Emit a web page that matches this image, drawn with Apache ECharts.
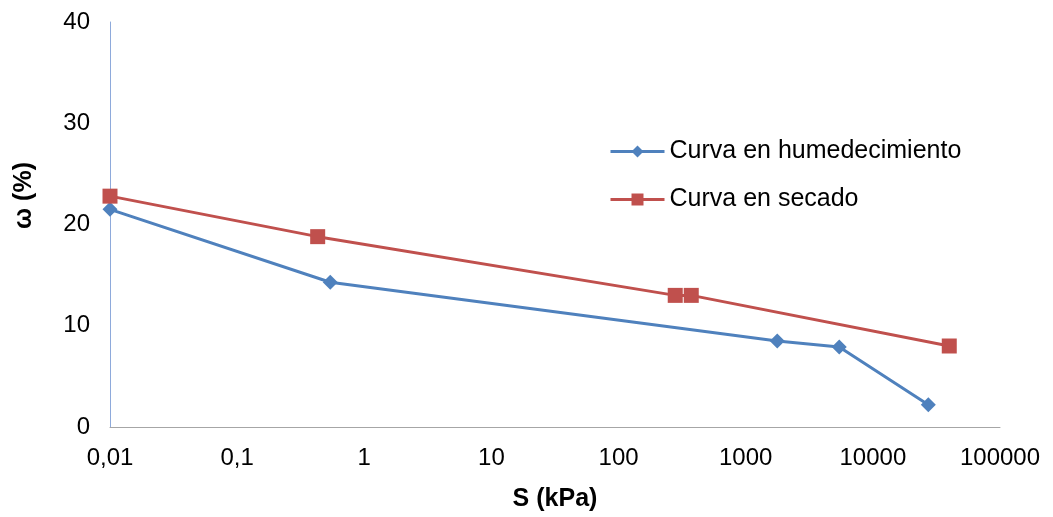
<!DOCTYPE html>
<html>
<head>
<meta charset="utf-8">
<script src="https://cdn.jsdelivr.net/npm/echarts@6/dist/echarts.min.js"></script>
<style>html,body{margin:0;padding:0;background:#fff}#c{width:1053px;height:517px}</style>
</head>
<body>
<div id="c"></div>
<script>
const wetS = [0.01, 0.54, 1770, 5440, 27300];
const wetW = [21.5, 14.3, 8.5, 7.9, 2.2];
const dryS = [0.01, 0.43, 279, 373, 39900];
const dryW = [22.8, 18.8, 13.0, 13.0, 8.0];
const seriesNames = ['Curva en humedecimiento', 'Curva en secado'];
const xName = 'S (kPa)';
const yName = 'ω (%)';

const font = '"Liberation Sans", Arial, sans-serif';
const chart = echarts.init(document.getElementById('c'));
chart.setOption({
  animation: false,
  textStyle: {fontFamily: font},
  grid: {left: 110, right: 53, top: 22, bottom: 88},
  legend: {
    orient: 'vertical', left: 609, top: 139, itemGap: 23, padding: 0,
    itemWidth: 54, itemHeight: 15,
    lineStyle: {width: 3},
    textStyle: {fontSize: 25, color: '#000', fontFamily: font},
    data: seriesNames
  },
  xAxis: {
    type: 'log', logBase: 10, min: 0.01, max: 100000,
    name: xName, nameLocation: 'middle', nameGap: 60,
    nameTextStyle: {fontSize: 25, fontWeight: 'bold', color: '#000', fontFamily: font},
    axisLine: {lineStyle: {color: '#a6a6a6', width: 1}},
    axisTick: {show: false},
    splitLine: {show: false},
    minorTick: {show: false},
    axisLabel: {fontSize: 24, color: '#000', margin: 19,
      formatter: v => String(Number(Number(v).toPrecision(6))).replace('.', ',')}
  },
  yAxis: {
    type: 'value', min: 0, max: 40, interval: 10,
    name: yName, nameLocation: 'middle', nameGap: 73, nameRotate: 90,
    nameTextStyle: {fontSize: 25, fontWeight: 'bold', color: '#000', fontFamily: font, padding: [0, 0, 0, 58]},
    axisLine: {show: true, lineStyle: {color: '#8eaadb', width: 1}},
    axisTick: {show: false},
    splitLine: {show: false},
    axisLabel: {fontSize: 24, color: '#000', margin: 20}
  },
  series: [
    {
      name: seriesNames[0], type: 'line',
      data: wetS.map((s, i) => [s, wetW[i]]),
      symbol: 'diamond', symbolSize: 15,
      lineStyle: {color: '#4F81BD', width: 3},
      itemStyle: {color: '#4F81BD'}
    },
    {
      name: seriesNames[1], type: 'line',
      data: dryS.map((s, i) => [s, dryW[i]]),
      symbol: 'rect', symbolSize: 15,
      lineStyle: {color: '#C0504D', width: 3},
      itemStyle: {color: '#C0504D'}
    }
  ]
});
</script>
</body>
</html>
